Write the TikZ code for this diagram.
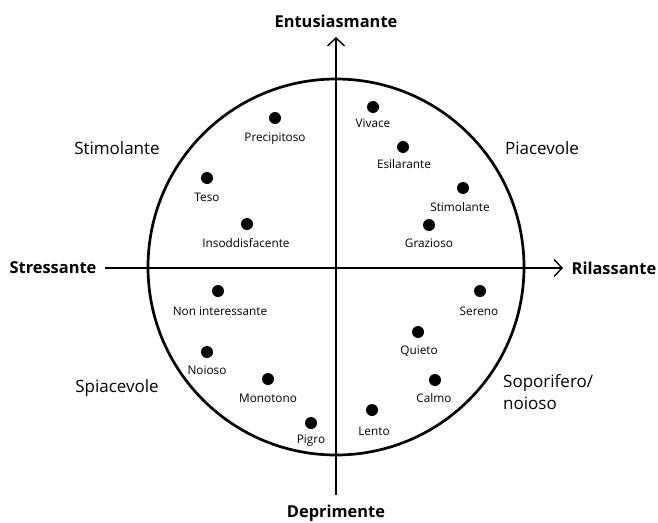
\documentclass[tikz,border=0pt]{standalone}
\usepackage{fontspec}
\setmainfont{Open Sans}
\usetikzlibrary{arrows.meta}
\begin{document}
\begin{tikzpicture}[x=1pt,y=-1pt,
  dot/.style={circle,fill=black,inner sep=0pt,minimum size=12pt},
  lab/.style={font=\fontsize{11.8}{14}\selectfont,inner sep=0pt},
  quad/.style={font=\fontsize{17}{22}\selectfont,inner sep=0pt},
  axlab/.style={font=\bfseries\fontsize{16.4}{20}\selectfont,inner sep=0pt},
  axis/.style={line width=1.4pt,-{Straight Barb[length=8pt,width=17pt,line width=1.4pt]}}]
\useasboundingbox (0,0) rectangle (658,522);
\coordinate (c) at (336,267);
\draw[line width=2.7pt] (c) circle (188);
\coordinate (l) at (105,268);
\coordinate (r) at (563,268);
\coordinate (b) at (336,495);
\coordinate (t) at (336,37);
\draw[axis] (l) -- (r);
\draw[axis] (b) -- (t);
\node[axlab] (nt) at (336,21) {Entusiasmante};
\node[axlab] (nb) at (336,513) {Deprimente};
\node[axlab] (nl) at (53,268) {Stressante};
\node[axlab] (nr) at (614,268) {Rilassante};
\node[quad] (q1) at (117,148) {Stimolante};
\node[quad] (q2) at (542,148) {Piacevole};
\node[quad] (q3) at (117,388) {Spiacevole};
\node[quad,anchor=north west,align=left] (q4) at (503,374) {Soporifero/\\noioso};
\foreach \n/\x/\y/\lx/\ly/\t in {
 a/275/118/275/139/Precipitoso,
 b/373/107/373/123/Vivace,
 c/403/147/404/164/Esilarante,
 d/463/188/460/207/Stimolante,
 e/207/178/207/197/Teso,
 f/247/224/246/243/Insoddisfacente,
 g/429/225/429/243/Grazioso,
 h/218/291/220/311/Non interessante,
 i/480/291/479/311/Sereno,
 j/418/332/419/351/Quieto,
 k/207/352/207/370/Noioso,
 m/435/380/434/398/Calmo,
 n/268/379/268/398/Monotono,
 o/372/410/374/431/Lento,
 p/311/423/311/441/Pigro}{
  \node[dot] (d\n) at (\x,\y) {};
  \node[lab] (t\n) at (\lx,\ly) {\t};
}
\end{tikzpicture}
\end{document}
